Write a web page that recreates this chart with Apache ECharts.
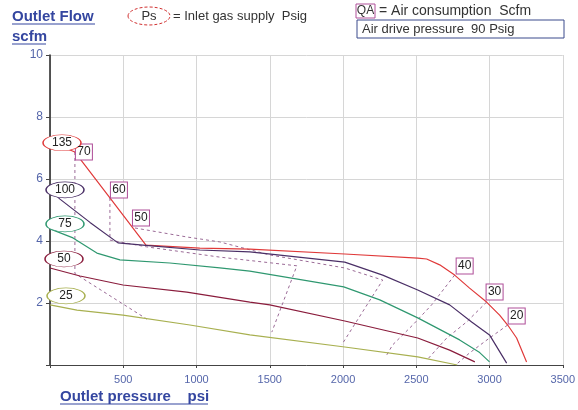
<!DOCTYPE html>
<html>
<head>
<meta charset="utf-8">
<script src="https://cdn.jsdelivr.net/npm/echarts@6/dist/echarts.min.js"></script>
<style>
  html, body { margin: 0; padding: 0; background: #fff; }
  #chart { width: 578px; height: 410px; }
</style>
</head>
<body>
<div id="chart"></div>
<script>
// Ps curves: outlet pressure (psi) vs outlet flow (scfm)
const ps135 = [[0, 7.2], [170, 6.87], [409, 5.39], [655, 3.87], [1023, 3.77], [1364, 3.74], [2012, 3.58], [2510, 3.45], [2571, 3.42], [2660, 3.23], [2762, 2.9], [2864, 2.48], [2980, 2.03], [3069, 1.61], [3124, 1.29], [3185, 0.87], [3253, 0.1]]
const ps100 = [[0, 5.65], [68, 5.35], [273, 4.6], [464, 3.94], [634, 3.87], [1023, 3.71], [1364, 3.65], [2012, 3.32], [2271, 2.9], [2510, 2.42], [2728, 1.94], [2878, 1.39], [3000, 0.97], [3117, 0.06]]
const ps75 = [[0, 4.39], [157, 4.1], [320, 3.61], [477, 3.39], [818, 3.29], [1159, 3.13], [1364, 3.03], [2005, 2.52], [2251, 2.1], [2510, 1.52], [2796, 0.81], [2933, 0.4], [3000, 0.1]]
const ps50 = [[0, 3.13], [205, 2.87], [498, 2.58], [934, 2.35], [1364, 2.03], [1500, 1.94], [2012, 1.42], [2510, 0.87], [2728, 0.48], [2900, 0.1]]
const ps25 = [[0, 1.94], [184, 1.77], [498, 1.61], [955, 1.29], [1364, 0.97], [2012, 0.58], [2510, 0.26], [2780, 0]]

// QA lines: constant air consumption (scfm)
const qa70 = [[170, 6.87], [170, 2.95], [661, 1.48]]
const qa60 = [[409, 5.39], [409, 4.03], [661, 3.81], [1159, 3.48], [1685, 3.2], [1514, 1.06]]
const qa50 = [[580, 4.42], [934, 4.13], [1159, 3.97], [1500, 3.55], [2012, 3.13], [2271, 2.74], [1991, 0.65]]
const qa40 = [[2762, 2.9], [2605, 1.94], [2476, 1.29], [2339, 0.65], [2298, 0.32]]
const qa30 = [[2980, 2.03], [2844, 1.39], [2708, 0.87], [2578, 0.19]]
const qa20 = [[3124, 1.29], [3000, 0.87], [2864, 0.39], [2783, 0.06]]

const font = 'Liberation Sans, Arial, sans-serif'
const ellipsePath = 'path://M0 50 A50 50 0 1 1 100 50 A50 50 0 1 1 0 50 Z'

const chart = echarts.init(document.getElementById('chart'))

function psSeries(name, data, color, offset) {
  return {
    name: name,
    type: 'line',
    data: data,
    symbol: 'none',
    silent: true,
    lineStyle: { color: color, width: 1.2 },
    markPoint: {
      symbol: ellipsePath,
      symbolSize: [38, 16],
      symbolOffset: offset,
      itemStyle: { color: '#fff', borderColor: color, borderWidth: 1 },
      label: { show: true, formatter: name, color: '#222', fontSize: 12, fontFamily: font },
      data: [{ coord: data[0] }]
    }
  }
}

function qaSeries(name, data, offset) {
  return {
    name: 'QA' + name,
    type: 'line',
    data: data,
    symbol: 'none',
    silent: true,
    lineStyle: { color: '#9a6a96', width: 1, type: [3, 3] },
    markPoint: {
      symbol: 'rect',
      symbolSize: [17, 16],
      symbolOffset: offset,
      itemStyle: { color: '#fff', borderColor: '#b0509a', borderWidth: 1 },
      label: { show: true, formatter: name, color: '#222', fontSize: 12, fontFamily: font },
      data: [{ coord: data[0] }]
    }
  }
}

const blue = '#3446a0'

chart.setOption({
  animation: false,
  grid: { left: 50, right: 15, top: 55, bottom: 45 },
  xAxis: {
    type: 'value',
    min: 0,
    max: 3500,
    interval: 500,
    axisLine: { lineStyle: { color: '#444' } },
    axisTick: { show: true, length: 3, lineStyle: { color: '#444' } },
    axisLabel: {
      color: '#5566aa', fontSize: 11, fontFamily: font, margin: 9,
      formatter: v => (v === 0 ? '' : v)
    },
    splitLine: { lineStyle: { color: '#d6d6d6' } }
  },
  yAxis: {
    type: 'value',
    min: 0,
    max: 10,
    interval: 2,
    axisLine: { show: true, lineStyle: { color: '#222', width: 1.5 } },
    axisTick: { show: true, length: 4, lineStyle: { color: '#444' } },
    axisLabel: {
      color: '#5566aa', fontSize: 12, fontFamily: font, margin: 7,
      formatter: v => (v === 0 ? '' : v)
    },
    splitLine: { lineStyle: { color: '#d6d6d6' } }
  },
  series: [
    qaSeries('70', qa70, [9, 0]),
    qaSeries('60', qa60, [9, -8]),
    qaSeries('50', qa50, [6, -10]),
    qaSeries('40', qa40, [10, -9]),
    qaSeries('30', qa30, [8, -10]),
    qaSeries('20', qa20, [9, -9]),
    psSeries('135', ps135, '#e03a3a', [12, 1]),
    psSeries('100', ps100, '#4a2f66', [15, 0]),
    psSeries('75', ps75, '#2f9870', [15, -5]),
    psSeries('50', ps50, '#8a1c3c', [14, -9]),
    psSeries('25', ps25, '#a8b050', [16, -9])
  ],
  graphic: [
    { type: 'text', x: 12, y: 9, style: { text: 'Outlet Flow', font: 'bold 15px ' + font, fill: blue } },
    { type: 'line', shape: { x1: 12, y1: 24, x2: 95, y2: 24 }, style: { stroke: blue, lineWidth: 1.2 } },
    { type: 'text', x: 12, y: 29, style: { text: 'scfm', font: 'bold 15px ' + font, fill: blue } },
    { type: 'line', shape: { x1: 12, y1: 44, x2: 46, y2: 44 }, style: { stroke: blue, lineWidth: 1.2 } },

    { type: 'ellipse', shape: { cx: 149, cy: 16, rx: 21, ry: 9 }, style: { fill: '#fff', stroke: '#d03030', lineDash: [3, 2], lineWidth: 1 } },
    { type: 'text', x: 149, y: 16, style: { text: 'Ps', font: '13px ' + font, fill: '#333', textAlign: 'center', textVerticalAlign: 'middle' } },
    { type: 'text', x: 173, y: 16, style: { text: '= Inlet gas supply  Psig', font: '13px ' + font, fill: '#333', textVerticalAlign: 'middle' } },

    { type: 'rect', shape: { x: 356, y: 4, width: 19, height: 14 }, style: { fill: '#fff', stroke: '#b0509a', lineWidth: 1 } },
    { type: 'text', x: 365.5, y: 11, style: { text: 'QA', font: '12px ' + font, fill: '#333', textAlign: 'center', textVerticalAlign: 'middle' } },
    { type: 'text', x: 379, y: 11, style: { text: '= Air consumption  Scfm', font: '14px ' + font, fill: '#333', textVerticalAlign: 'middle' } },

    { type: 'rect', shape: { x: 357, y: 20, width: 207, height: 18 }, style: { fill: '#fff', stroke: '#3a4a8c', lineWidth: 1 } },
    { type: 'text', x: 362, y: 29, style: { text: 'Air drive pressure  90 Psig', font: '13px ' + font, fill: '#333', textVerticalAlign: 'middle' } },

    { type: 'text', x: 60, y: 389, style: { text: 'Outlet pressure    psi', font: 'bold 15px ' + font, fill: blue } },
    { type: 'line', shape: { x1: 60, y1: 404, x2: 208, y2: 404 }, style: { stroke: blue, lineWidth: 1.2 } }
  ]
})
</script>
</body>
</html>
